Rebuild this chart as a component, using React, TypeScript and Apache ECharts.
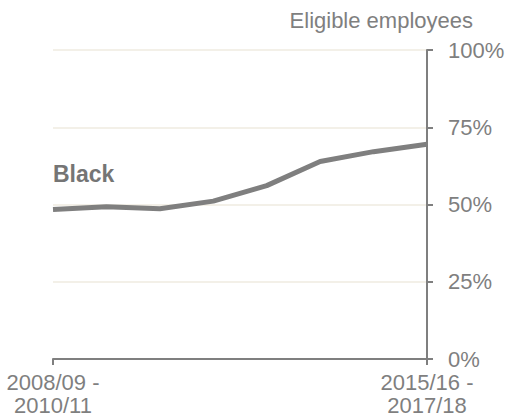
import React, { useEffect, useRef } from "react";
import * as echarts from "echarts";

const categories = [
  "2008/09 -\n2010/11",
  "2009/10 -\n2011/12",
  "2010/11 -\n2012/13",
  "2011/12 -\n2013/14",
  "2012/13 -\n2014/15",
  "2013/14 -\n2015/16",
  "2014/15 -\n2016/17",
  "2015/16 -\n2017/18",
];
const blackValues = [48.4, 49.3, 48.6, 51.1, 56.1, 63.9, 67.1, 69.5];
const yTicks = [0, 25, 50, 75, 100];
const seriesName = "Black";
const axisTitle = "Eligible employees";

const FONT = '"Liberation Sans", Arial, Helvetica, sans-serif';
const GREY = "#7f7f7f";

export default function App() {
  const ref = useRef<HTMLDivElement>(null);
  useEffect(() => {
    if (!ref.current) return;
    const chart = echarts.init(ref.current, undefined, { renderer: "svg" });
    const last = categories.length - 1;
    const showEnds = (i: number) => i === 0 || i === last;
    chart.setOption({
      animation: false,
      textStyle: { fontFamily: FONT },
      grid: { left: 53, right: 81, top: 50, bottom: 57, containLabel: false },
      xAxis: {
        type: "category",
        data: categories,
        boundaryGap: false,
        axisLine: { show: true, lineStyle: { color: GREY, width: 2 } },
        axisTick: {
          show: true,
          interval: (i: number) => showEnds(i),
          length: 6,
          lineStyle: { color: GREY, width: 2 },
        },
        axisLabel: {
          interval: (i: number) => showEnds(i),
          color: GREY,
          fontSize: 22,
          fontFamily: FONT,
          lineHeight: 23,
          margin: 12,
        },
        splitLine: { show: false },
      },
      yAxis: {
        type: "value",
        position: "right",
        min: yTicks[0],
        max: yTicks[yTicks.length - 1],
        interval: 25,
        axisLine: { show: true, lineStyle: { color: GREY, width: 2 } },
        axisTick: { show: true, length: 6, lineStyle: { color: GREY, width: 2 } },
        axisLabel: {
          color: GREY,
          fontSize: 22,
          fontFamily: FONT,
          margin: 21,
          formatter: (v: number) => `${v}%`,
        },
        splitLine: { show: true, lineStyle: { color: "#efebe1", width: 1.5 } },
      },
      graphic: [
        {
          type: "text",
          right: 35,
          top: 9,
          style: {
            text: axisTitle,
            fill: GREY,
            font: `22px ${FONT}`,
          },
        },
        {
          type: "text",
          left: 53,
          top: 162,
          style: {
            text: seriesName,
            fill: "#757575",
            font: `bold 23px ${FONT}`,
          },
        },
      ],
      series: [
        {
          name: seriesName,
          type: "line",
          data: blackValues,
          symbol: "none",
          lineStyle: { color: GREY, width: 5 },
          z: 5,
        },
      ],
    });
    return () => chart.dispose();
  }, []);
  return (
    <div
      ref={ref}
      style={{ position: "absolute", left: 0, top: 0, width: 508, height: 417, background: "#fff" }}
    />
  );
}
